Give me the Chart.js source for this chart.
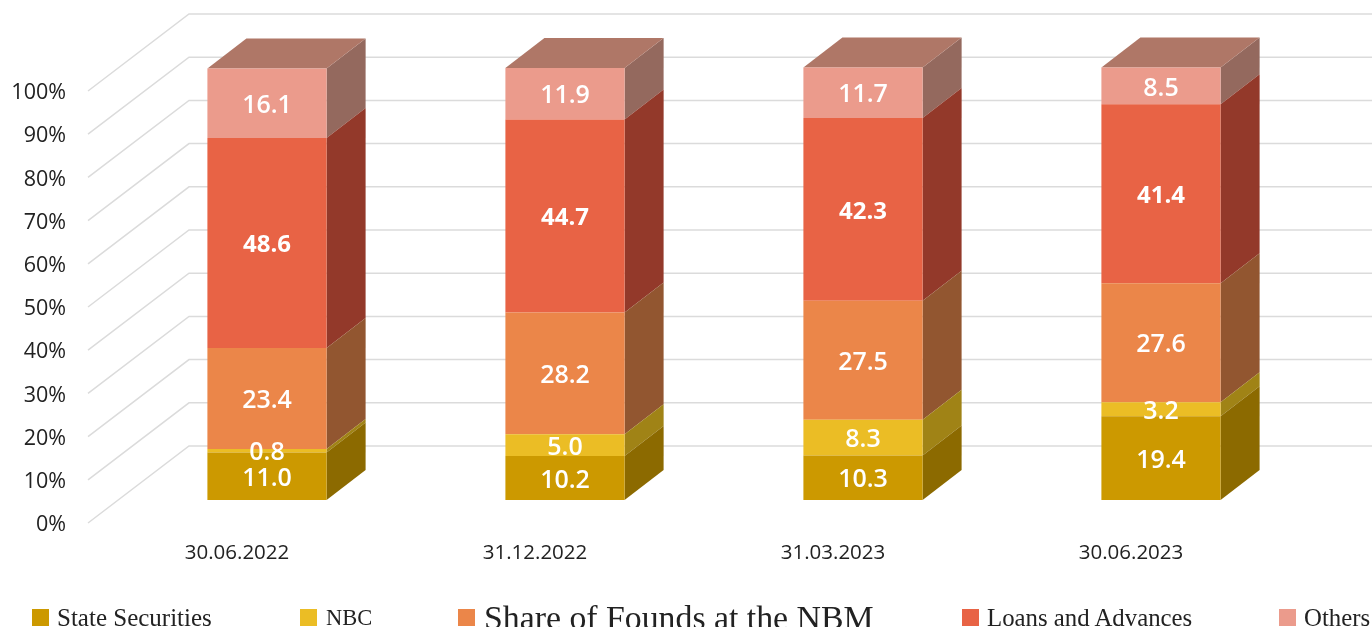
<!DOCTYPE html>
<html lang="en">
<head>
<meta charset="UTF-8">
<title>Assets structure</title>
<script src="https://cdn.jsdelivr.net/npm/chart.js@4"></script>
<style>
    html, body { margin: 0; padding: 0; background: #fff; overflow: hidden; }
    #wrap { position: relative; width: 1372px; height: 627px; overflow: hidden; }
    canvas { display: block; }
    .key { position: absolute; top: 609px; width: 17px; height: 17px; }
    .txt { position: absolute; white-space: nowrap; color: #222; font-family: "Liberation Serif", serif; line-height: 30px; top: 603px; }
</style>
</head>
<body>
<div id="wrap">
    <canvas id="chart" width="1372" height="627"></canvas>
</div>
<script>
// data
const dates = ['30.06.2022', '31.12.2022', '31.03.2023', '30.06.2023'];
const stateSecurities = [11.0, 10.2, 10.3, 19.4];
const nbc = [0.8, 5.0, 8.3, 3.2];
const shareOfFunds = [23.4, 28.2, 27.5, 27.6];
const loans = [48.6, 44.7, 42.3, 41.4];
const others = [16.1, 11.9, 11.7, 8.5];

const seriesNames = ['State Securities', 'NBC', 'Share of Founds at the NBM', 'Loans and Advances', 'Others'];
const seriesValues = [stateSecurities, nbc, shareOfFunds, loans, others];
const frontColors = ['#CC9900', '#EBBD25', '#EB8649', '#E86345', '#EB9B8C'];
const sideColors = ['#8C6A00', '#A08316', '#925630', '#93392A', '#94695E'];
const topColor = '#AF7767';
const labelFonts = ['600 25px "Open Sans"', '600 25px "Open Sans"', '600 25px "Open Sans"', 'bold 24px "Open Sans"', '600 25px "Open Sans"'];

// legend layout: [square x, text x, font size]
const legendPos = [[32, 57, 25], [300, 326, 22.5], [458, 484, 33.8], [962, 987, 24.8], [1279, 1304, 24.8]];

// fake 3D: wall offset, bar offset inside the floor, bar depth
const wallDx = 101, wallDy = -77;
const barDx = 30, barDy = -23;
const depthDx = 39, depthDy = -30;

const box3d = {
    id: 'box3d',
    beforeDatasetsDraw(chart) {
        const { ctx, scales: { y }, chartArea } = chart;
        ctx.save();
        ctx.strokeStyle = '#DBDBDB';
        ctx.lineWidth = 1.5;
        y.ticks.forEach(t => {
            const py = y.getPixelForValue(t.value);
            ctx.beginPath();
            ctx.moveTo(chartArea.left, py);
            ctx.lineTo(chartArea.left + wallDx, py + wallDy);
            ctx.lineTo(chart.width, py + wallDy);
            ctx.stroke();
        });
        ctx.restore();
    },
    beforeDatasetDraw(chart, args) {
        const { ctx } = chart;
        ctx.save();
        ctx.translate(barDx, barDy);
        const last = chart.data.datasets.length - 1;
        args.meta.data.forEach(el => {
            const right = el.x + el.width / 2;
            const left = el.x - el.width / 2;
            ctx.fillStyle = sideColors[args.index];
            ctx.beginPath();
            ctx.moveTo(right, el.base);
            ctx.lineTo(right + depthDx, el.base + depthDy);
            ctx.lineTo(right + depthDx, el.y + depthDy);
            ctx.lineTo(right, el.y);
            ctx.closePath();
            ctx.fill();
            if (args.index === last) {
                ctx.fillStyle = topColor;
                ctx.beginPath();
                ctx.moveTo(left, el.y);
                ctx.lineTo(left + depthDx, el.y + depthDy);
                ctx.lineTo(right + depthDx, el.y + depthDy);
                ctx.lineTo(right, el.y);
                ctx.closePath();
                ctx.fill();
            }
        });
    },
    afterDatasetDraw(chart) {
        chart.ctx.restore();
    },
    afterDatasetsDraw(chart) {
        const { ctx } = chart;
        ctx.save();
        ctx.translate(barDx, barDy);
        ctx.textAlign = 'center';
        ctx.textBaseline = 'middle';
        ctx.fillStyle = '#fff';
        chart.data.datasets.forEach((ds, i) => {
            ctx.font = labelFonts[i];
            chart.getDatasetMeta(i).data.forEach((el, j) => {
                ctx.fillText(ds.data[j].toFixed(1), el.x, (el.y + el.base) / 2 + 2.5);
            });
        });
        ctx.restore();
    }
};

new Chart(document.getElementById('chart'), {
    type: 'bar',
    data: {
        labels: dates,
        datasets: seriesNames.map((name, i) => ({
            label: name,
            data: seriesValues[i],
            backgroundColor: frontColors[i],
            clip: false
        }))
    },
    options: {
        responsive: false,
        animation: false,
        layout: { padding: { top: 91, right: 92, left: 0, bottom: 0 } },
        datasets: { bar: { categoryPercentage: 1, barPercentage: 0.4, borderWidth: 0 } },
        plugins: { legend: { display: false }, tooltip: { enabled: false } },
        scales: {
            x: {
                stacked: true,
                grid: { display: false },
                border: { display: false },
                afterFit: s => { s.height = 104; },
                ticks: { color: '#222', padding: 10, maxRotation: 0, font: { family: '"Open Sans"', size: 20.5 } }
            },
            y: {
                stacked: true,
                min: 0,
                max: 100,
                grid: { display: false },
                border: { display: false },
                afterFit: s => { s.width = 88; },
                ticks: {
                    stepSize: 10,
                    color: '#222',
                    padding: 14,
                    labelOffset: 2,
                    font: { family: '"Open Sans"', size: 21.5 },
                    callback: v => v + '%'
                }
            }
        }
    },
    plugins: [box3d]
});

// legend: one item is set larger in the picture, Chart.js legend can't do that per item
const wrap = document.getElementById('wrap');
seriesNames.forEach((name, i) => {
    const key = document.createElement('div');
    key.className = 'key';
    key.style.left = legendPos[i][0] + 'px';
    key.style.background = frontColors[i];
    const txt = document.createElement('div');
    txt.className = 'txt';
    txt.style.left = legendPos[i][1] + 'px';
    txt.style.fontSize = legendPos[i][2] + 'px';
    txt.textContent = name;
    wrap.appendChild(key);
    wrap.appendChild(txt);
});
</script>
</body>
</html>
